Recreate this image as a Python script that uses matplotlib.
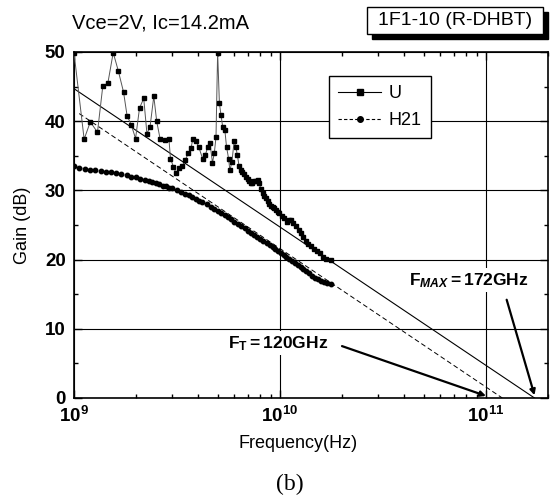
import matplotlib
matplotlib.use("Agg")
import matplotlib.pyplot as plt
from matplotlib.lines import Line2D
from matplotlib.patches import Rectangle
from matplotlib.ticker import FixedLocator, LogLocator, NullFormatter, MultipleLocator

plt.rcParams["font.family"] = ["Liberation Sans", "DejaVu Sans"]
plt.rcParams["mathtext.fontset"] = "custom"
plt.rcParams["mathtext.rm"] = "Liberation Sans"
plt.rcParams["mathtext.bf"] = "Liberation Sans:bold"
plt.rcParams["mathtext.it"] = "Liberation Sans:italic:bold"

# --- data (frequency in GHz, gain in dB) -----------------------------
U_FREQ = [1.00, 1.12, 1.20, 1.30, 1.38, 1.46, 1.55, 1.64, 1.74, 1.81,
          1.90, 1.99, 2.08, 2.18, 2.26, 2.34, 2.44, 2.52, 2.62, 2.75,
          2.89, 2.94, 3.04, 3.13, 3.22, 3.35, 3.47, 3.59, 3.70, 3.77,
          3.91, 4.03, 4.21, 4.34, 4.46, 4.57, 4.70, 4.80, 4.89, 4.98,
          5.08, 5.17, 5.27, 5.40, 5.50, 5.63, 5.71, 5.84, 5.99, 6.10,
          6.21, 6.33, 6.45, 6.57, 6.70, 6.83, 6.96, 7.09, 7.22, 7.35,
          7.50, 7.63, 7.78, 7.92, 8.08, 8.23, 8.40, 8.54, 8.70, 8.86,
          9.03, 9.20, 9.38, 9.55, 9.73, 9.92, 10.2, 10.5, 10.8, 11.0,
          11.3, 11.6, 11.9, 12.3, 12.7, 13.0, 13.4, 13.7, 14.2, 14.6,
          15.1, 15.6, 16.2, 16.8, 17.6]
U_GAIN = [49.9, 37.4, 39.9, 38.4, 45.1, 45.5, 49.9, 47.3, 44.2, 40.8,
          39.4, 37.5, 41.9, 43.3, 38.2, 39.2, 43.6, 40.0, 37.4, 37.3,
          37.4, 34.6, 33.4, 32.5, 33.2, 33.5, 34.4, 35.4, 36.1, 37.4,
          37.1, 36.3, 34.6, 35.1, 36.3, 36.9, 34.0, 35.4, 37.7, 49.9,
          42.6, 40.9, 39.2, 38.7, 36.3, 34.6, 32.9, 34.1, 37.1, 36.3,
          35.1, 33.5, 33.0, 32.7, 32.3, 32.0, 31.6, 31.3, 31.0, 31.0,
          31.4, 31.3, 31.5, 31.0, 30.2, 29.6, 29.2, 28.9, 28.4, 28.1,
          27.8, 27.6, 27.4, 27.2, 26.9, 26.7, 26.3, 26.0, 25.4, 25.7,
          25.7, 25.3, 24.8, 24.3, 23.8, 23.3, 22.7, 22.3, 21.9, 21.6,
          21.2, 20.9, 20.4, 20.1, 19.9]

H21_FREQ = [1.00, 1.06, 1.13, 1.20, 1.27, 1.35, 1.43, 1.51, 1.60, 1.70,
            1.80, 1.90, 2.00, 2.10, 2.20, 2.30, 2.40, 2.50, 2.60, 2.70,
            2.80, 2.90, 3.00, 3.15, 3.30, 3.45, 3.60, 3.75, 3.90, 4.05,
            4.20, 4.40, 4.60, 4.80, 5.00, 5.20, 5.40, 5.60, 5.80, 6.00,
            6.25, 6.50, 6.75, 7.00, 7.25, 7.50, 7.75, 8.00, 8.30, 8.60,
            8.90, 9.20, 9.50, 9.80, 10.1, 10.4, 10.7, 11.0, 11.4, 11.8,
            12.2, 12.6, 13.0, 13.4, 13.8, 14.3, 14.8, 15.3, 15.8, 16.4,
            17.0, 17.6]
H21_GAIN = [33.5, 33.3, 33.1, 33.0, 32.9, 32.8, 32.7, 32.6, 32.5, 32.3,
            32.2, 32.0, 31.9, 31.7, 31.5, 31.4, 31.2, 31.0, 30.9, 30.7,
            30.6, 30.4, 30.3, 30.0, 29.8, 29.5, 29.3, 29.0, 28.8, 28.5,
            28.3, 28.0, 27.6, 27.3, 27.0, 26.7, 26.4, 26.1, 25.8, 25.5,
            25.2, 24.9, 24.5, 24.2, 23.9, 23.6, 23.3, 23.0, 22.7, 22.4,
            22.1, 21.8, 21.5, 21.2, 20.9, 20.6, 20.4, 20.1, 19.8, 19.5,
            19.2, 18.9, 18.6, 18.3, 18.0, 17.7, 17.4, 17.2, 16.9, 16.7,
            16.6, 16.5]

# -20 dB/decade extrapolation lines (end points, GHz / dB)
FMAX_LINE_F = [1.0, 172.0]
FMAX_LINE_G = [44.7, 0.0]
FT_LINE_F = [1.06, 120.0]
FT_LINE_G = [41.1, 0.0]

fig = plt.figure(figsize=(5.53, 4.99), dpi=100)
ax = fig.add_axes([74 / 553, 1 - 398 / 499, 474 / 553, 346 / 499])

ghz = 1e9
ax.plot([f * ghz for f in U_FREQ], U_GAIN, "-", color="#555555", lw=0.7,
        marker="s", ms=3.4, mfc="black", mec="black", zorder=4)
ax.plot([f * ghz for f in H21_FREQ], H21_GAIN, ":", color="#555555", lw=0.7,
        marker="o", ms=3.2, mfc="black", mec="black", zorder=4)
ax.plot([f * ghz for f in FMAX_LINE_F], FMAX_LINE_G, "-", color="black",
        lw=0.8, zorder=3)
ax.plot([f * ghz for f in FT_LINE_F], FT_LINE_G, color="black", lw=0.7,
        ls=(0, (5, 3)), zorder=3)

ax.set_xscale("log")
ax.set_xlim(1e9, 2e11)
ax.set_ylim(0, 50)
ax.xaxis.set_major_locator(FixedLocator([1e9, 1e10, 1e11]))
ax.xaxis.set_minor_locator(LogLocator(base=10, subs=range(2, 10)))
ax.xaxis.set_minor_formatter(NullFormatter())
ax.set_xticklabels([r"$\mathbf{10^{9}}$", r"$\mathbf{10^{10}}$",
                    r"$\mathbf{10^{11}}$"])
ax.yaxis.set_major_locator(MultipleLocator(10))
ax.yaxis.set_minor_locator(MultipleLocator(5))
for lab in ax.get_yticklabels():
    lab.set_fontweight("bold")
ax.tick_params(which="both", direction="in", top=True, right=True,
               labelsize=13.5, width=1.0)
ax.tick_params(which="major", length=6, pad=6)
ax.tick_params(which="minor", length=3)
ax.grid(True, which="major", color="black", lw=0.8)
for s in ax.spines.values():
    s.set_linewidth(1.2)

ax.set_xlabel("Frequency(Hz)", fontsize=13)
ax.xaxis.set_label_coords((298 - 74) / 474, -(435 - 398) / 346)
ax.set_ylabel("Gain (dB)", fontsize=13)
ax.yaxis.set_label_coords(-(74 - 31) / 474, 0.5)

# legend
handles = [
    Line2D([], [], color="black", lw=0.8, marker="s", ms=4),
    Line2D([], [], color="black", lw=0.8, ls=(0, (3, 2)), marker="o", ms=4),
]
leg = ax.legend(handles, ["U", "H21"], loc="upper left",
                bbox_to_anchor=((329 - 74) / 474, (398 - 76) / 346),
                borderaxespad=0, fancybox=False, edgecolor="black",
                framealpha=1, fontsize=13, handlelength=2.4,
                handletextpad=0.4, borderpad=0.5, labelspacing=0.55)
leg.get_frame().set_linewidth(1.0)

# F_T / F_MAX annotations
ax.text(9.8e9, 7.9, r"$\mathbf{F_T}$$\mathbf{=120GHz}$", ha="center",
        va="center", fontsize=12.5,
        bbox=dict(facecolor="white", edgecolor="none", pad=2), zorder=6)
ax.annotate("", xy=(1e11, 0.3), xytext=(2.0e10, 7.5),
            arrowprops=dict(arrowstyle="-|>", color="black", lw=1.6,
                            mutation_scale=8, shrinkA=0, shrinkB=0),
            zorder=6)
ax.text(8.2e10, 17.0, r"$\mathbf{F_{\mathit{MAX}}}$$\mathbf{=172GHz}$",
        ha="center", va="center", fontsize=12.5,
        bbox=dict(facecolor="white", edgecolor="none", pad=2), zorder=6)
ax.annotate("", xy=(1.72e11, 0.4), xytext=(1.26e11, 14.2),
            arrowprops=dict(arrowstyle="-|>", color="black", lw=1.6,
                            mutation_scale=8, shrinkA=0, shrinkB=0),
            zorder=6)

# header texts
fig.text(72 / 553, 1 - 23 / 499, "Vce=2V, Ic=14.2mA", fontsize=14.5,
         ha="left", va="center")
bx, by, bw, bh = 367 / 553, 1 - 34 / 499, 176 / 553, 27 / 499
fig.patches.append(Rectangle((bx + 5 / 553, by - 5 / 499), bw, bh,
                             transform=fig.transFigure, facecolor="black",
                             edgecolor="black", zorder=1))
fig.patches.append(Rectangle((bx, by), bw, bh, transform=fig.transFigure,
                             facecolor="white", edgecolor="black", lw=1.0,
                             zorder=2))
fig.text(bx + bw / 2, by + bh / 2, "1F1-10 (R-DHBT)", fontsize=14,
         ha="center", va="center", zorder=3)

fig.text(290 / 553, 1 - 484 / 499, "(b)", fontsize=17,
         family=["Liberation Serif", "DejaVu Serif"], ha="center",
         va="center")

fig.savefig("out.png", dpi=100, facecolor="white")
